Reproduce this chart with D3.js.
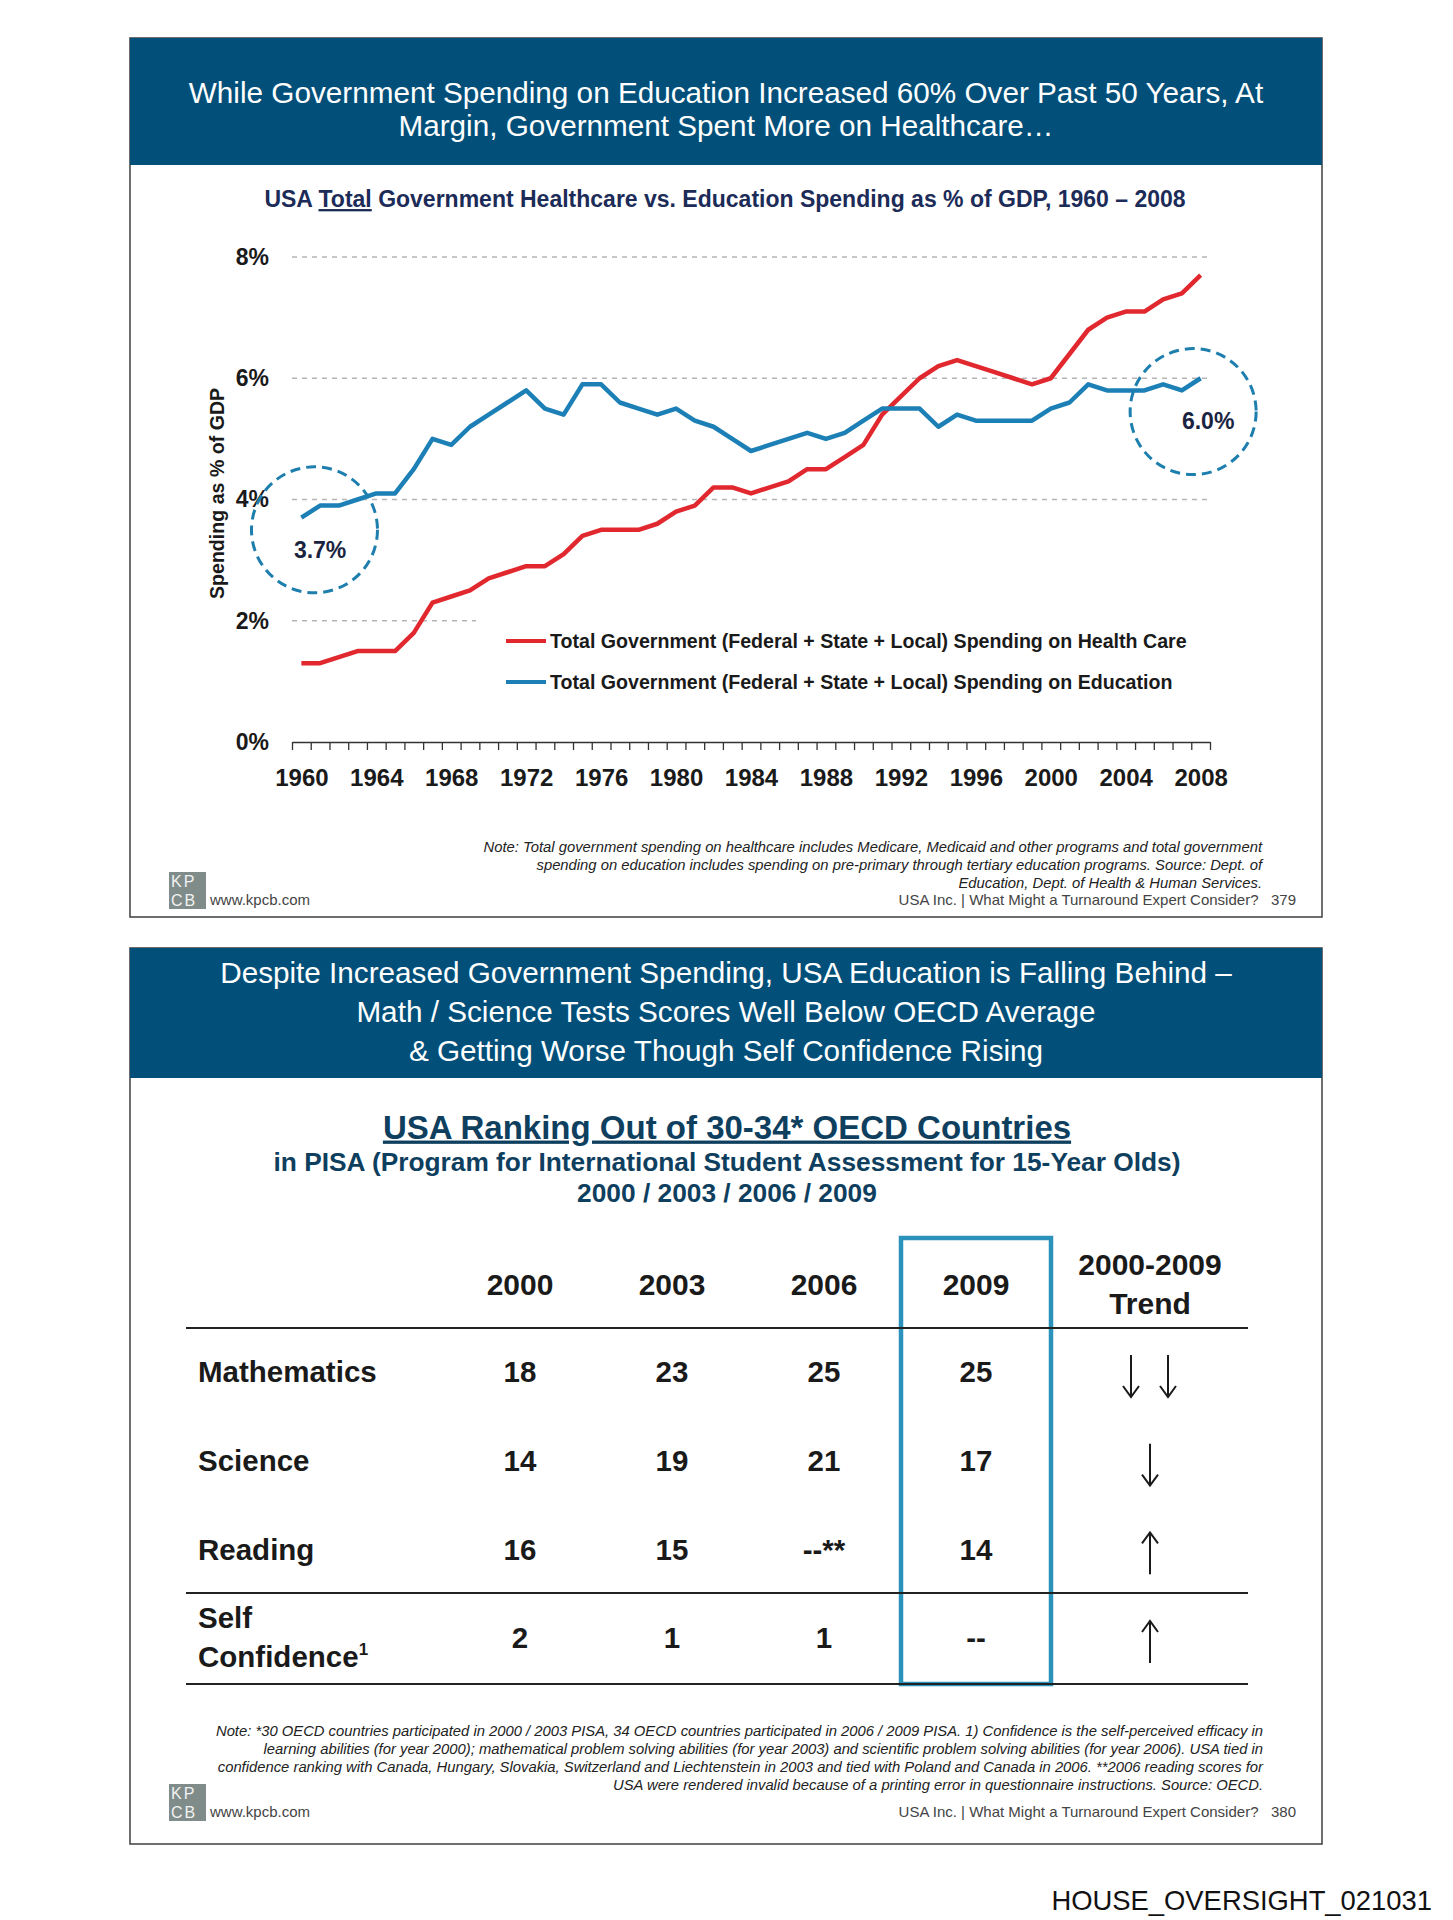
<!DOCTYPE html>
<html>
<head>
<meta charset="utf-8">
<script src="https://cdn.jsdelivr.net/npm/d3@7"></script>
<style>
  body { margin: 0; background: #fff; }
  svg { display: block; }
  text { font-family: "Liberation Sans", Arial, sans-serif; }
</style>
</head>
<body>
<div id="page"></div>
<script>
// ---- data: spending as % of GDP, 1960-2008 ----
var years = d3.range(1960, 2009);
var healthcare = [1.3,1.3,1.4,1.5,1.5,1.5,1.8,2.3,2.4,2.5,
                  2.7,2.8,2.9,2.9,3.1,3.4,3.5,3.5,3.5,3.6,
                  3.8,3.9,4.2,4.2,4.1,4.2,4.3,4.5,4.5,4.7,
                  4.9,5.4,5.7,6.0,6.2,6.3,6.2,6.1,6.0,5.9,
                  6.0,6.4,6.8,7.0,7.1,7.1,7.3,7.4,7.7];
var education = [3.7,3.9,3.9,4.0,4.1,4.1,4.5,5.0,4.9,5.2,
                 5.4,5.6,5.8,5.5,5.4,5.9,5.9,5.6,5.5,5.4,
                 5.5,5.3,5.2,5.0,4.8,4.9,5.0,5.1,5.0,5.1,
                 5.3,5.5,5.5,5.5,5.2,5.4,5.3,5.3,5.3,5.3,
                 5.5,5.6,5.9,5.8,5.8,5.8,5.9,5.8,6.0];
var seriesNames = ["Total Government (Federal + State + Local) Spending on Health Care",
                   "Total Government (Federal + State + Local) Spending on Education"];
var yTicks = [0, 2, 4, 6, 8];
var xLabelYears = d3.range(1960, 2009, 4);

// ---- data: PISA ranking table ----
var pisaYears = ["2000", "2003", "2006", "2009"];
var subjects = ["Mathematics", "Science", "Reading", "Self Confidence"];
var mathRank = ["18", "23", "25", "25"];
var scienceRank = ["14", "19", "21", "17"];
var readingRank = ["16", "15", "--**", "14"];
var confidenceRank = ["2", "1", "1", "--"];
var trends = [["down", "down"], ["down"], ["up"], ["up"]];

var W = 1453, H = 1920;
var navy = "#02507a", red = "#e0282e", blue = "#1c80b6", ink = "#1a1a1a";

var svg = d3.select("#page").append("svg")
    .attr("width", W).attr("height", H);

svg.append("rect").attr("width", W).attr("height", H).attr("fill", "#fff");

function panel(top, bottom, bandBottom, lines, lineYs) {
    svg.append("rect")
        .attr("x", 130).attr("y", top)
        .attr("width", 1192).attr("height", bottom - top)
        .attr("fill", "#fff").attr("stroke", "#4a4a4a").attr("stroke-width", 1.6);
    svg.append("rect")
        .attr("x", 130).attr("y", top)
        .attr("width", 1192).attr("height", bandBottom - top)
        .attr("fill", navy);
    lines.forEach(function(t, i) {
        svg.append("text")
            .attr("x", 726).attr("y", lineYs[i]).attr("dy", "0.35em")
            .attr("text-anchor", "middle")
            .attr("fill", "#fff").attr("font-size", 29.7)
            .text(t);
    });
}

function logoFooter(y, page) {
    var g = svg.append("g");
    g.append("rect").attr("x", 169).attr("y", y - 28).attr("width", 37).attr("height", 37).attr("fill", "#7f8c89");
    g.append("text").attr("x", 171).attr("y", y - 13).attr("fill", "#f2f2f2").attr("font-size", 16)
        .attr("letter-spacing", 2).text("KP");
    g.append("text").attr("x", 171).attr("y", y + 6).attr("fill", "#f2f2f2").attr("font-size", 16)
        .attr("letter-spacing", 2).text("CB");
    g.append("text").attr("x", 210).attr("y", y + 5).attr("fill", "#444").attr("font-size", 15).text("www.kpcb.com");
    g.append("text").attr("x", 1296).attr("y", y + 5).attr("text-anchor", "end")
        .attr("fill", "#444").attr("font-size", 15)
        .attr("xml:space", "preserve")
        .text("USA Inc. | What Might a Turnaround Expert Consider?   " + page);
}

// ================= TOP PANEL =================
panel(38, 917, 165,
      ["While Government Spending on Education Increased 60% Over Past 50 Years, At",
       "Margin, Government Spent More on Healthcare\u2026"],
      [93, 126]);

var title = svg.append("text")
    .attr("x", 725).attr("y", 199).attr("dy", "0.35em")
    .attr("text-anchor", "middle")
    .attr("font-size", 23).attr("font-weight", "bold").attr("fill", "#1c2b57");
title.append("tspan").text("USA ");
title.append("tspan").attr("text-decoration", "underline").text("Total");
title.append("tspan").text(" Government Healthcare vs. Education Spending as % of GDP, 1960 \u2013 2008");

var x = d3.scaleLinear().domain([1959.5, 2008.5]).range([292, 1210]);
var y = d3.scaleLinear().domain([0, 8]).range([742, 257]);

// gridlines
svg.append("g").selectAll("line")
    .data(yTicks.filter(function(d) { return d > 0; }))
    .enter().append("line")
    .attr("x1", x(1959.5)).attr("x2", x(2008.5))
    .attr("y1", function(d) { return y(d); }).attr("y2", function(d) { return y(d); })
    .attr("stroke", "#b5b5b5").attr("stroke-width", 1.3)
    .attr("stroke-dasharray", "5,5");

// y axis labels
var yAxis = svg.append("g")
    .attr("transform", "translate(" + (x(1959.5) - 20) + ",0)")
    .call(d3.axisLeft(y).tickValues(yTicks).tickSize(0).tickFormat(function(d) { return d + "%"; }));
yAxis.select(".domain").remove();
yAxis.selectAll("text")
    .attr("font-family", "Liberation Sans, Arial, sans-serif")
    .attr("font-size", 23).attr("font-weight", "bold").attr("fill", ink);

// x axis: ticks on year boundaries, labels every 4 years
var xTickAxis = svg.append("g")
    .attr("transform", "translate(0," + y(0) + ")")
    .call(d3.axisBottom(x).tickValues(d3.range(1959.5, 2009, 1)).tickSize(8).tickFormat("").tickSizeOuter(0));
xTickAxis.select(".domain").attr("stroke", "#333").attr("stroke-width", 1.5);
xTickAxis.selectAll(".tick line").attr("stroke", "#333").attr("stroke-width", 1.3);

var xLabelAxis = svg.append("g")
    .attr("transform", "translate(0," + (y(0) + 24) + ")")
    .call(d3.axisBottom(x).tickValues(xLabelYears).tickSize(0).tickFormat(d3.format("d")));
xLabelAxis.select(".domain").remove();
xLabelAxis.selectAll("text")
    .attr("font-family", "Liberation Sans, Arial, sans-serif")
    .attr("font-size", 24).attr("font-weight", "bold").attr("fill", ink);

// y axis title
svg.append("text")
    .attr("transform", "translate(217," + y(4.1) + ") rotate(-90)")
    .attr("dy", "0.35em").attr("text-anchor", "middle")
    .attr("font-size", 19.6).attr("font-weight", "bold").attr("fill", ink)
    .text("Spending as % of GDP");

// legend (white box hides the 2% gridline behind it)
svg.append("rect").attr("x", 476).attr("y", y(2) - 10).attr("width", 740).attr("height", 90).attr("fill", "#fff");
var legend = svg.append("g").selectAll("g")
    .data(seriesNames).enter().append("g")
    .attr("transform", function(d, i) { return "translate(506," + (641 + i * 41) + ")"; });
legend.append("line")
    .attr("x1", 0).attr("x2", 40)
    .attr("stroke", function(d, i) { return i === 0 ? red : blue; })
    .attr("stroke-width", 4);
legend.append("text")
    .attr("x", 44).attr("dy", "0.35em")
    .attr("font-size", 19.6).attr("font-weight", "bold").attr("fill", ink)
    .text(function(d) { return d; });

// lines
var line = d3.line()
    .x(function(d, i) { return x(years[i]); })
    .y(function(d) { return y(d); });

[healthcare, education].forEach(function(series, i) {
    svg.append("path")
        .datum(series)
        .attr("d", line)
        .attr("fill", "none")
        .attr("stroke", i === 0 ? red : blue)
        .attr("stroke-width", 4.5)
        .attr("stroke-linejoin", "round");
});

// callout circles
var callouts = [
    {cx: 1960.7, cy: 3.5, label: "3.7%", lx: 1961, ly: 3.17},
    {cx: 2007.6, cy: 5.45, label: "6.0%", lx: 2008.4, ly: 5.3}
];
svg.append("g").selectAll("circle")
    .data(callouts).enter().append("circle")
    .attr("cx", function(d) { return x(d.cx); })
    .attr("cy", function(d) { return y(d.cy); })
    .attr("r", 63)
    .attr("fill", "none").attr("stroke", "#1e7fae")
    .attr("stroke-width", 3).attr("stroke-dasharray", "10,6");
svg.append("g").selectAll("text")
    .data(callouts).enter().append("text")
    .attr("x", function(d) { return x(d.lx); })
    .attr("y", function(d) { return y(d.ly); })
    .attr("dy", "0.35em").attr("text-anchor", "middle")
    .attr("font-size", 23).attr("font-weight", "bold").attr("fill", "#1a2440")
    .text(function(d) { return d.label; });

// note
var note1 = ["Note: Total government spending on healthcare includes Medicare, Medicaid and other programs and total government",
             "spending on education includes spending on pre-primary through tertiary education programs. Source: Dept. of",
             "Education, Dept. of Health & Human Services."];
svg.append("g").selectAll("text")
    .data(note1).enter().append("text")
    .attr("x", 1262).attr("y", function(d, i) { return 852 + i * 18; })
    .attr("text-anchor", "end")
    .attr("font-size", 14.8).attr("font-style", "italic").attr("fill", "#222")
    .text(function(d) { return d; });

logoFooter(900, "379");

// ================= BOTTOM PANEL =================
panel(948, 1844, 1078,
      ["Despite Increased Government Spending, USA Education is Falling Behind \u2013",
       "Math / Science Tests Scores Well Below OECD Average",
       "& Getting Worse Though Self Confidence Rising"],
      [973, 1012, 1051]);

var teal = "#0f3f5f";
svg.append("text")
    .attr("x", 727).attr("y", 1127).attr("dy", "0.35em").attr("text-anchor", "middle")
    .attr("font-size", 33).attr("font-weight", "bold").attr("fill", teal)
    .attr("text-decoration", "underline")
    .text("USA Ranking Out of 30-34* OECD Countries");
svg.append("text")
    .attr("x", 727).attr("y", 1162).attr("dy", "0.35em").attr("text-anchor", "middle")
    .attr("font-size", 26.3).attr("font-weight", "bold").attr("fill", teal)
    .text("in PISA (Program for International Student Assessment for 15-Year Olds)");
svg.append("text")
    .attr("x", 727).attr("y", 1193).attr("dy", "0.35em").attr("text-anchor", "middle")
    .attr("font-size", 26.3).attr("font-weight", "bold").attr("fill", teal)
    .text(pisaYears.join(" / "));

var col = d3.scalePoint().domain(pisaYears).range([520, 976]);
var row = d3.scalePoint().domain(subjects).range([1372, 1638]);
var trendX = 1150;

// 2009 highlight box
svg.append("rect")
    .attr("x", col("2009") - 75).attr("y", 1238)
    .attr("width", 150).attr("height", 1684 - 1238)
    .attr("fill", "none").attr("stroke", "#2a92bb").attr("stroke-width", 4.5);

// header row
svg.append("g").selectAll("text")
    .data(pisaYears).enter().append("text")
    .attr("x", function(d) { return col(d); }).attr("y", 1284).attr("dy", "0.35em")
    .attr("text-anchor", "middle")
    .attr("font-size", 30).attr("font-weight", "bold").attr("fill", ink)
    .text(function(d) { return d; });
svg.append("text")
    .attr("x", trendX).attr("y", 1264).attr("dy", "0.35em").attr("text-anchor", "middle")
    .attr("font-size", 30).attr("font-weight", "bold").attr("fill", ink).text("2000-2009");
svg.append("text")
    .attr("x", trendX).attr("y", 1303).attr("dy", "0.35em").attr("text-anchor", "middle")
    .attr("font-size", 30).attr("font-weight", "bold").attr("fill", ink).text("Trend");

// rule lines
[1328, 1593, 1684].forEach(function(ly) {
    svg.append("line")
        .attr("x1", 186).attr("x2", 1248).attr("y1", ly).attr("y2", ly)
        .attr("stroke", "#222").attr("stroke-width", 2);
});

// row labels
subjects.forEach(function(s) {
    if (s === "Self Confidence") {
        svg.append("text").attr("x", 198).attr("y", row(s) - 20).attr("dy", "0.35em")
            .attr("font-size", 29.5).attr("font-weight", "bold").attr("fill", ink).text("Self");
        var t = svg.append("text").attr("x", 198).attr("y", row(s) + 19).attr("dy", "0.35em")
            .attr("font-size", 29.5).attr("font-weight", "bold").attr("fill", ink);
        t.append("tspan").text("Confidence");
        t.append("tspan").attr("font-size", 17).attr("dy", "-0.7em").text("1");
    } else {
        svg.append("text").attr("x", 198).attr("y", row(s)).attr("dy", "0.35em")
            .attr("font-size", 29.5).attr("font-weight", "bold").attr("fill", ink).text(s);
    }
});

// cells
var rows = [mathRank, scienceRank, readingRank, confidenceRank];
rows.forEach(function(vals, r) {
    svg.append("g").selectAll("text")
        .data(vals).enter().append("text")
        .attr("x", function(d, i) { return col(pisaYears[i]); })
        .attr("y", row(subjects[r]))
        .attr("dy", "0.35em").attr("text-anchor", "middle")
        .attr("font-size", 29.5).attr("font-weight", "bold").attr("fill", ink)
        .text(function(d) { return d; });
});

// trend arrows
function arrowPath(cx, cy, dir) {
    var h = 21, hw = 8, hl = 11;
    var tip = dir === "up" ? cy - h : cy + h;
    var tail = dir === "up" ? cy + h : cy - h;
    var back = dir === "up" ? tip + hl : tip - hl;
    return "M" + cx + "," + tail + "L" + cx + "," + tip +
           "M" + (cx - hw) + "," + back + "L" + cx + "," + tip + "L" + (cx + hw) + "," + back;
}
trends.forEach(function(arrs, r) {
    var cy = row(subjects[r]) + 4;
    arrs.forEach(function(dir, k) {
        var cx = arrs.length === 1 ? trendX : trendX - 19 + k * 37;
        svg.append("path")
            .attr("d", arrowPath(cx, cy, dir))
            .attr("fill", "none").attr("stroke", ink).attr("stroke-width", 2);
    });
});

// note
var note2 = ["Note: *30 OECD countries participated in 2000 / 2003 PISA, 34 OECD countries participated in 2006 / 2009 PISA. 1) Confidence is the self-perceived efficacy in",
             "learning abilities (for year 2000); mathematical problem solving abilities (for year 2003) and scientific problem solving abilities (for year 2006). USA tied in",
             "confidence ranking with Canada, Hungary, Slovakia, Switzerland and Liechtenstein in 2003 and tied with Poland and Canada in 2006. **2006 reading scores for",
             "USA were rendered invalid because of a printing error in questionnaire instructions. Source: OECD."];
svg.append("g").selectAll("text")
    .data(note2).enter().append("text")
    .attr("x", 1263).attr("y", function(d, i) { return 1736 + i * 18; })
    .attr("text-anchor", "end")
    .attr("font-size", 14.8).attr("font-style", "italic").attr("fill", "#222")
    .text(function(d) { return d; });

logoFooter(1812, "380");

svg.append("text")
    .attr("x", 1432).attr("y", 1910).attr("text-anchor", "end")
    .attr("font-size", 27.4).attr("fill", "#111")
    .text("HOUSE_OVERSIGHT_021031");
</script>
</body>
</html>
